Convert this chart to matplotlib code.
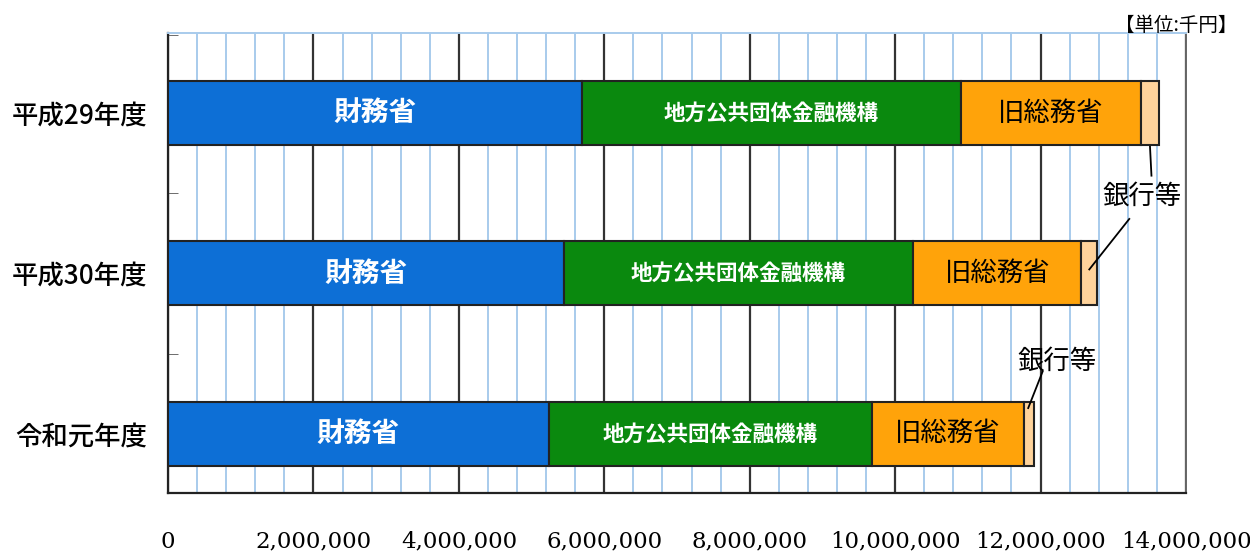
import matplotlib.pyplot as plt
from matplotlib.ticker import MultipleLocator, FuncFormatter, FixedLocator
import numpy as np

plt.rcParams['font.family'] = ['Noto Sans CJK JP', 'DejaVu Sans']

# 単位: 千円
years = ['平成29年度', '平成30年度', '令和元年度']
zaimu = [5690000, 5440000, 5240000]
chiho = [5210000, 4810000, 4440000]
kyu_somu = [2475000, 2310000, 2090000]
ginko = [260000, 220000, 140000]

series = [
    ('財務省', zaimu, '#0D6FD6'),
    ('地方公共団体金融機構', chiho, '#0A890E'),
    ('旧総務省', kyu_somu, '#FFA30A'),
    ('銀行等', ginko, '#FFD39B'),
]

fig = plt.figure(figsize=(12.5, 5.56), dpi=100)
ax = fig.add_axes([0.1344, 0.1133, 0.9488 - 0.1344, 0.9406 - 0.1133])

y = np.arange(len(years))
left = np.zeros(len(years))
for name, vals, col in series:
    vals = np.array(vals, dtype=float)
    ax.barh(y, vals, left=left, height=0.4, color=col,
            edgecolor='#222222', linewidth=1.5, zorder=3)
    for i in range(len(years)):
        cx = left[i] + vals[i] / 2
        if name == '財務省':
            ax.text(cx, y[i], name, ha='center', va='center', color='white',
                    fontsize=20, fontweight='bold', zorder=4)
        elif name == '地方公共団体金融機構':
            ax.text(cx, y[i], name, ha='center', va='center', color='white',
                    fontsize=15.5, fontweight='bold', zorder=4)
        elif name == '旧総務省':
            ax.text(cx, y[i], name, ha='center', va='center', color='black',
                    fontsize=19, zorder=4)
    left = left + vals

# 銀行等 labels with leader lines
tot = left
g = np.array(ginko, dtype=float)
ax.text(13390000, 0.52, '銀行等', ha='center', va='center', fontsize=19, zorder=5)
ax.plot([tot[0] - g[0] / 2, tot[0] - g[0] / 2 + 20000], [0.21, 0.39], color='black', lw=1.3, zorder=5)
ax.plot([13220000, tot[1] - g[1] / 2], [0.66, 0.975], color='black', lw=1.3, zorder=5)
ax.text(12230000, 1.55, '銀行等', ha='center', va='center', fontsize=19, zorder=5)
ax.plot([12030000, tot[2] - g[2] / 2 - 10000], [1.61, 1.84], color='black', lw=1.3, zorder=5)

ax.set_xlim(0, 14000000)
ax.set_ylim(2.37, -0.5)

ax.xaxis.set_major_locator(MultipleLocator(2000000))
ax.xaxis.set_minor_locator(MultipleLocator(400000))
ax.xaxis.set_major_formatter(FuncFormatter(lambda v, p: '{:,.0f}'.format(v)))
ax.grid(which='minor', axis='x', color='#A8CBEC', linewidth=1.4, zorder=1)
ax.grid(which='major', axis='x', color='#333333', linewidth=1.6, zorder=2)
ax.tick_params(axis='x', which='both', length=0, pad=27)
for lab in ax.get_xticklabels():
    lab.set_fontfamily('DejaVu Serif')
    lab.set_fontsize(16.5)

ax.set_yticks(y)
ax.set_yticklabels(years, fontsize=19, fontweight='medium')
ax.yaxis.set_minor_locator(FixedLocator([-0.49, 0.5, 1.5]))
ax.tick_params(axis='y', which='major', length=0, pad=15)
ax.tick_params(axis='y', which='minor', direction='in', length=7, color='#555555')

ax.spines['left'].set_color('#222222')
ax.spines['left'].set_linewidth(1.6)
ax.spines['bottom'].set_color('#222222')
ax.spines['bottom'].set_linewidth(1.6)
ax.spines['top'].set_color('#A8CBEC')
ax.spines['top'].set_linewidth(1.4)
ax.spines['right'].set_color('#666666')
ax.spines['right'].set_linewidth(1.4)

fig.text(0.9896, 0.955, '【単位:千円】', ha='right', va='center', fontsize=14)

fig.savefig('out.png', dpi=100)
